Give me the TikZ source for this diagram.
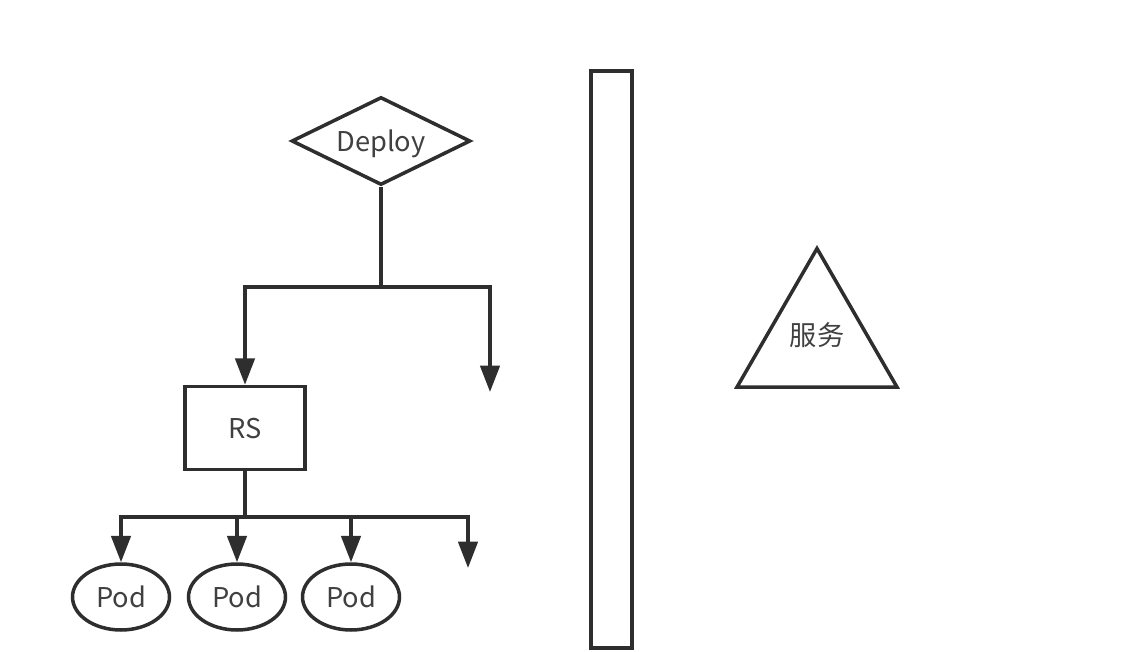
\documentclass[tikz,border=0pt]{standalone}
\usepackage{fontspec}
\setmainfont{Noto Sans CJK SC}
\usetikzlibrary{shapes.geometric,arrows.meta}
\definecolor{ink}{HTML}{2E2E2E}
\definecolor{word}{HTML}{404040}
\tikzset{
  box/.style={draw=ink, line width=2pt, text=word, inner sep=0pt, text depth=0pt,
    font=\fontsize{15.5}{18}\selectfont},
  bar/.style={draw=ink, line width=2pt},
  link/.style={bar, -{Triangle[length=15pt,width=11pt]}},
  pod/.style={box, ellipse, minimum width=1.94cm, minimum height=1.32cm},
}
\begin{document}
\begin{tikzpicture}[x=0.02cm,y=-0.02cm]
  \useasboundingbox (0,0) rectangle (1140,652);
  \node[box, diamond, aspect=2, minimum width=3.58cm, minimum height=1.76cm] (deploy) at (381,141) {Deploy};
  \node[box, minimum width=2.4cm, minimum height=1.66cm] (rs) at (245,428) {RS};
  \node[pod] (pod1) at (121,597) {Pod};
  \node[pod] (pod2) at (237,597) {Pod};
  \node[pod] (pod3) at (351,597) {Pod};
  \node[box, minimum width=0.82cm, minimum height=11.54cm] (wall) at (611.5,359.5) {};
  \node[box, regular polygon, regular polygon sides=3, minimum size=3.7cm,
    label={[text=word, font=\fontsize{15.5}{18}\selectfont, yshift=0.12cm]center:服务}] (svc) at (817,341) {};

  \coordinate (split) at (381,287);
  \coordinate (spare1) at (490,392);
  \draw[bar] (deploy.south) -- (split);
  \draw[link] (split) -| (rs.north);
  \draw[link] (split) -| (spare1);

  \coordinate (hub) at (245,517);
  \coordinate (spare2) at (468,568);
  \draw[bar] (rs.south) -- (hub);
  \draw[link] (hub) -| (pod1.north);
  \draw[link] (hub) -| (pod2.north);
  \draw[link] (hub) -| (pod3.north);
  \draw[link] (hub) -| (spare2);
\end{tikzpicture}
\end{document}
